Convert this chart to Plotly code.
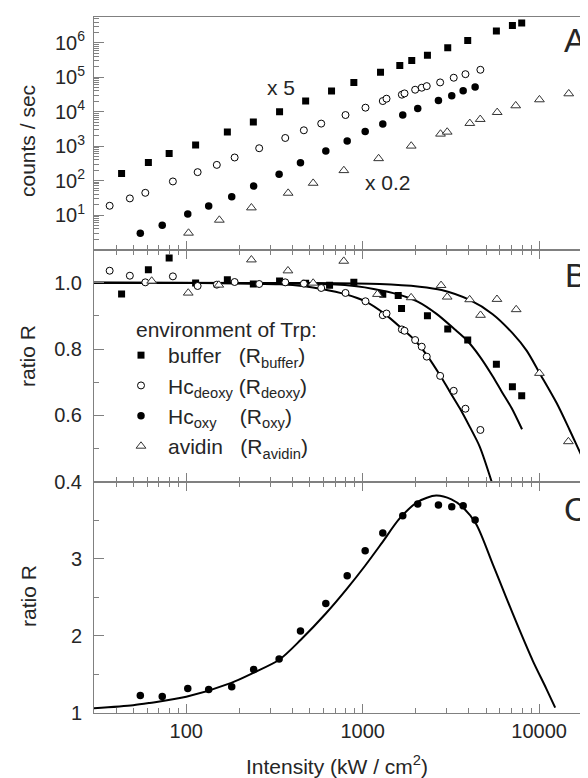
import math
import plotly.graph_objects as go

# ---------------- data ----------------
# Panel A: counts / sec
A_buffer_x = [43, 61, 80, 113, 171, 240, 338, 475, 666, 891, 1262, 1623, 1897, 2328, 3034, 3938, 5724, 7056, 7967]
A_buffer_y = [161, 336, 611, 1084, 2580, 5025, 10050, 20400, 39700, 70900, 141000, 220000, 307000, 438000, 717000,
              1160000, 2220000, 3170000, 3790000]
A_deoxy_x = [36.8, 47.9, 58.6, 84, 116, 149, 188, 259, 364, 464, 582, 799, 1037, 1300, 1365, 1667, 1726, 1983, 2161,
             2307, 2748, 3281, 3823, 4646]
A_deoxy_y = [18.6, 30.4, 44.2, 94.6, 176, 286, 469, 871, 1730, 2890, 4520, 8020, 13100, 20400, 23900, 31200, 34000,
             43500, 49800, 55400, 70900, 97000, 123000, 165000]
A_oxy_x = [54.9, 73.1, 102, 134, 181, 241, 336, 444, 618, 817, 1033, 1300, 1687, 2051, 2687, 3197, 3710, 4337]
A_oxy_y = [2.95, 5.03, 10.7, 18.2, 33.9, 69.2, 154, 331, 728, 1417, 2650, 4400, 8020, 12500, 21300, 29200, 40800, 51800]
A_avidin_x = [103, 154, 234, 378, 524, 782, 1231, 1884, 2761, 3013, 4047, 4636, 5785, 7369, 10040, 14720, 18290]
A_avidin_y = [3.01, 7.16, 16.3, 43.4, 84.4, 197, 438, 1014, 2258, 2580, 4610, 6020, 9590, 15000, 22400, 33400, 48500]

# Panel B: ratio R
B_buffer_x = [43, 61, 80, 113, 171, 240, 338, 475, 649, 891, 1300, 1590, 1660, 2328, 3034, 3938, 5724, 7056, 7967]
B_buffer_y = [0.966, 1.039, 1.074, 0.999, 1.009, 0.996, 1.005, 0.998, 0.992, 1.001, 0.965, 0.961, 0.922, 0.900, 0.860,
              0.827, 0.754, 0.686, 0.659]
B_deoxy_x = A_deoxy_x
B_deoxy_y = [1.036, 1.021, 1.001, 1.019, 0.990, 0.994, 1.002, 0.996, 1.001, 0.997, 0.984, 0.969, 0.944, 0.902, 0.907,
             0.859, 0.855, 0.827, 0.807, 0.777, 0.719, 0.674, 0.620, 0.556]
B_avidin_x = [63.7, 102.6, 153, 234, 377, 524, 781, 1212, 1882, 2781, 3012, 4039, 4654, 5768, 7413, 10040, 14650, 18550]
B_avidin_y = [1.005, 0.969, 0.993, 1.069, 1.036, 0.999, 1.065, 0.965, 0.955, 0.992, 0.957, 0.949, 0.902, 0.950, 0.919,
              0.727, 0.521, 0.424]

fit_deoxy_x = [30, 119, 228, 338, 468, 585, 800, 1040, 1332, 1706, 1969, 2334, 2766, 3111, 3546, 4039, 4603, 5383]
fit_deoxy_y = [1.000, 0.999, 0.997, 0.995, 0.989, 0.981, 0.965, 0.943, 0.906, 0.857, 0.827, 0.778, 0.718, 0.672,
               0.622, 0.566, 0.506, 0.400]
fit_buffer_x = [30, 234, 451, 666, 923, 1153, 1578, 2049, 2622, 3362, 3880, 4603, 5454, 6128, 6982, 8000]
fit_buffer_y = [1.000, 0.999, 0.997, 0.995, 0.989, 0.981, 0.965, 0.943, 0.906, 0.857, 0.827, 0.778, 0.718, 0.672,
                0.622, 0.558]
fit_avidin_x = [30, 439, 1247, 2100, 2799, 4039, 5454, 7086, 8497, 10070, 12570, 14890, 18840, 20900]
fit_avidin_y = [1.000, 0.999, 0.996, 0.988, 0.978, 0.948, 0.905, 0.847, 0.795, 0.727, 0.637, 0.556, 0.440, 0.400]

# Panel C: ratio R (oxy)
C_x = A_oxy_x
C_y = [1.227, 1.214, 1.317, 1.305, 1.339, 1.563, 1.70, 2.062, 2.419, 2.781, 3.103, 3.335, 3.559, 3.710, 3.697, 3.675,
       3.688, 3.503]
fit_C_x = [30, 50, 62, 100, 180, 240, 336, 446, 618, 813, 1032, 1289, 1616, 2052, 2608, 3184, 3688, 4394, 5459, 6501,
           7730, 9195, 10960, 12330]
fit_C_y = [1.06, 1.10, 1.13, 1.21, 1.39, 1.52, 1.69, 1.95, 2.29, 2.61, 2.91, 3.21, 3.52, 3.74, 3.82, 3.77, 3.67, 3.45,
           2.93, 2.50, 2.08, 1.68, 1.32, 1.07]

x_tickvals = [100, 1000, 10000]
x_ticktext = ["100", "1000", "10000"]
A_tickvals = [10, 100, 1000, 10000, 100000, 1000000]
A_ticktext = ["10<sup>1</sup>", "10<sup>2</sup>", "10<sup>3</sup>", "10<sup>4</sup>", "10<sup>5</sup>", "10<sup>6</sup>"]
B_tickvals = [0.4, 0.6, 0.8, 1.0]
B_ticktext = ["0.4", "0.6", "0.8", "1.0"]
C_tickvals = [1, 2, 3]
C_ticktext = ["1", "2", "3"]

NB = "\u00a0"
legend_names = {
    "buffer": "buffer" + NB * 3 + "(R<sub>buffer</sub>)",
    "deoxy": "Hc<sub>deoxy</sub>" + NB + "(R<sub>deoxy</sub>)",
    "oxy": "Hc<sub>oxy</sub>" + NB * 4 + "(R<sub>oxy</sub>)",
    "avidin": "avidin" + NB * 3 + "(R<sub>avidin</sub>)",
}

# ---------------- layout helpers ----------------
# the page body adds an 8px offset, so the figure is shifted/smaller
W, H = 580, 770
ML, MR, MT = 86, 0, 9
PH = 696
MB = H - MT - PH
PW = W - ML - MR


def pxx(x):  # reference-image pixel -> paper fraction
    return (x - 94) / PW


def pxy(y):
    return (713 - y) / PH


FONT = "Liberation Sans, Arial, Helvetica, sans-serif"
TXT = "#262626"
AX = "#808080"

dom_C = [0, pxy(481.7)]
dom_B = [pxy(481.7), pxy(249.5)]
dom_A = [pxy(249.5), 1]

sq = dict(symbol="square", size=7, color="black")
oc = dict(symbol="circle", size=7, color="white", line=dict(color="black", width=1))
fc = dict(symbol="circle", size=7.5, color="black")
tr = dict(symbol="triangle-up", size=8.5, color="white", line=dict(color="#333333", width=1))
fitline = dict(color="black", width=2, shape="spline", smoothing=0.8)

fig = go.Figure()

# Panel A
fig.add_trace(go.Scatter(x=A_buffer_x, y=A_buffer_y, mode="markers", marker=sq, xaxis="x", yaxis="y", showlegend=False))
fig.add_trace(go.Scatter(x=A_deoxy_x, y=A_deoxy_y, mode="markers", marker=oc, xaxis="x", yaxis="y", showlegend=False))
fig.add_trace(go.Scatter(x=A_oxy_x, y=A_oxy_y, mode="markers", marker=fc, xaxis="x", yaxis="y", showlegend=False))
fig.add_trace(go.Scatter(x=A_avidin_x, y=A_avidin_y, mode="markers", marker=tr, xaxis="x", yaxis="y", showlegend=False))

# Panel B fits
for fx, fy in [(fit_deoxy_x, fit_deoxy_y), (fit_buffer_x, fit_buffer_y), (fit_avidin_x, fit_avidin_y)]:
    fig.add_trace(go.Scatter(x=fx, y=fy, mode="lines", line=fitline, xaxis="x2", yaxis="y2", showlegend=False))
# Panel B points
fig.add_trace(go.Scatter(x=B_buffer_x, y=B_buffer_y, mode="markers", marker=sq, xaxis="x2", yaxis="y2",
                         name=legend_names["buffer"], legendrank=1))
fig.add_trace(go.Scatter(x=B_deoxy_x, y=B_deoxy_y, mode="markers", marker=oc, xaxis="x2", yaxis="y2",
                         name=legend_names["deoxy"], legendrank=2))
fig.add_trace(go.Scatter(x=B_avidin_x, y=B_avidin_y, mode="markers", marker=tr, xaxis="x2", yaxis="y2",
                         name=legend_names["avidin"], legendrank=4))

# Panel C
fig.add_trace(go.Scatter(x=fit_C_x, y=fit_C_y, mode="lines", line=fitline, xaxis="x3", yaxis="y3", showlegend=False))
fig.add_trace(go.Scatter(x=C_x, y=C_y, mode="markers", marker=fc, xaxis="x3", yaxis="y3",
                         name=legend_names["oxy"], legendrank=3))

xr = [math.log10(30), 4.277]
x_minor = [m * 10 ** e for e in range(1, 5) for m in range(2, 10)]


def xaxis(anchor, mirror, labels):
    return dict(type="log", range=xr, domain=[0, 1], anchor=anchor, showline=True, linecolor=AX, linewidth=1,
                mirror=mirror, ticks="inside", ticklen=9, tickcolor=AX, tickwidth=1,
                tickmode="array", tickvals=x_tickvals, ticktext=x_ticktext, showticklabels=labels,
                tickfont=dict(family=FONT, size=20, color=TXT), showgrid=False, zeroline=False,
                minor=dict(tickmode="array", tickvals=x_minor, ticks="inside", ticklen=5, tickcolor=AX,
                           tickwidth=1, showgrid=False))


def yaxis(anchor, dom, rng, tv, tt, minor_vals, typ="linear", standoff=7):
    return dict(type=typ, range=rng, domain=dom, anchor=anchor, showline=True, linecolor=AX, linewidth=1,
                ticks="inside", ticklen=10, tickcolor=AX, tickwidth=1, tickmode="array", tickvals=tv,
                ticktext=tt, tickfont=dict(family=FONT, size=20, color=TXT), showgrid=False, zeroline=False,
                ticklabelstandoff=standoff,
                minor=dict(tickmode="array", tickvals=minor_vals, ticks="inside", ticklen=5, tickcolor=AX,
                           tickwidth=1, showgrid=False))


A_minor = [m * 10 ** e for e in range(0, 7) for m in range(2, 10)]

annos = []


def txt(x, y, s, size=21, angle=0, xanchor="center"):
    annos.append(dict(x=pxx(x), y=pxy(y), xref="paper", yref="paper", text=s, showarrow=False, textangle=angle,
                      xanchor=xanchor, yanchor="middle", font=dict(family=FONT, size=size, color=TXT)))


txt(28, 141, "counts / sec", angle=-90)
txt(28, 356, "ratio R", angle=-90)
txt(28, 596, "ratio R", angle=-90)
txt(337, 765, "Intensity (kW / cm<sup>2</sup>)")
txt(281, 87.5, "x 5")
txt(387.5, 182.5, "x 0.2")
txt(562, 40, "A", size=33, xanchor="left")
txt(563, 275, "B", size=33, xanchor="left")
txt(562, 510, "C", size=33, xanchor="left")
txt(134, 329, "environment of Trp:", xanchor="left")

fig.update_layout(
    width=W, height=H,
    margin=dict(l=ML, r=MR, t=MT, b=MB, pad=0),
    paper_bgcolor="white", plot_bgcolor="white",
    font=dict(family=FONT, size=20, color=TXT),
    xaxis=xaxis("y", True, False),
    xaxis2=xaxis("y2", "ticks", False),
    xaxis3=xaxis("y3", "ticks", True),
    yaxis=yaxis("x", dom_A, [0, 6.75], A_tickvals, A_ticktext, A_minor, typ="log", standoff=4),
    yaxis2=yaxis("x2", dom_B, [0.4, 1.1], B_tickvals, B_ticktext, [0.5, 0.7, 0.9]),
    yaxis3=yaxis("x3", dom_C, [1, 4], C_tickvals, C_ticktext, [1.5, 2.5, 3.5]),
    legend=dict(x=pxx(114), y=pxy(335), xanchor="left", yanchor="top", bgcolor="rgba(0,0,0,0)",
                font=dict(family=FONT, size=21, color=TXT), itemwidth=44, traceorder="normal",
                tracegroupgap=0),
    annotations=annos,
    showlegend=True,
)

fig.write_html("out.html")
